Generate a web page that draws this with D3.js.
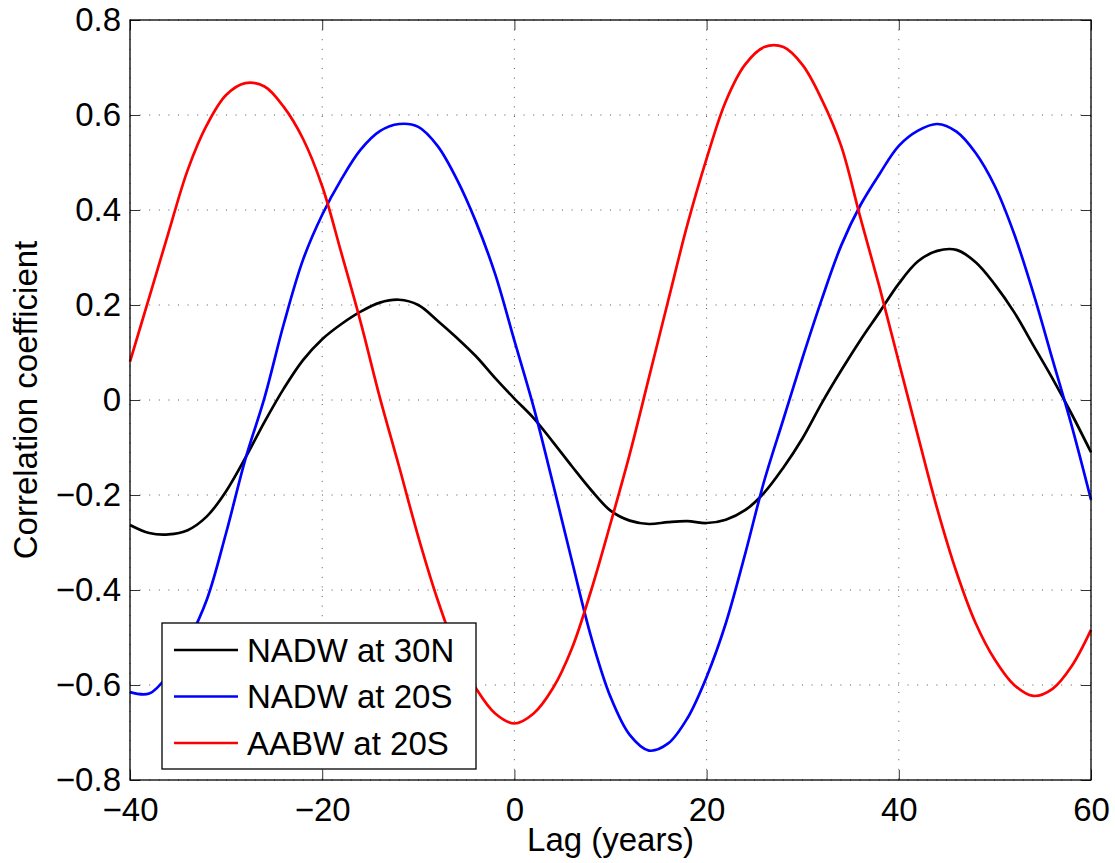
<!DOCTYPE html>
<html>
<head>
<meta charset="utf-8">
<script src="https://cdn.jsdelivr.net/npm/d3@7/dist/d3.min.js"></script>
<style>
  body { margin: 0; background: #fff; }
  svg text { font-family: "Liberation Sans", Arial, Helvetica, sans-serif; fill: #000; }
</style>
</head>
<body>
<svg id="chart"></svg>
<script>
// Chart size and plot box
const width = 1115;
const height = 863;
const margin = { top: 20, right: 24, bottom: 83, left: 130 };

// Data: lag in years, one value every 2 years
const lags = d3.range(-40, 61, 2);

const nadw30N = [
  -0.263, -0.280, -0.283, -0.274, -0.245, -0.192, -0.122, -0.046, 0.024, 0.084,
  0.128, 0.160, 0.186, 0.205, 0.211, 0.200, 0.167, 0.131, 0.092, 0.046,
  0.003, -0.038, -0.088, -0.140, -0.190, -0.233, -0.254, -0.261, -0.257, -0.255,
  -0.259, -0.252, -0.232, -0.195, -0.142, -0.080, -0.006, 0.062, 0.126, 0.185,
  0.245, 0.292, 0.314, 0.316, 0.290, 0.243, 0.185, 0.115, 0.045, -0.030,
  -0.110
];

const nadw20S = [
  -0.615, -0.618, -0.578, -0.510, -0.420, -0.280, -0.125, 0.005, 0.160, 0.295,
  0.390, 0.465, 0.527, 0.566, 0.581, 0.575, 0.535, 0.465, 0.375, 0.265,
  0.125, -0.015, -0.175, -0.340, -0.500, -0.625, -0.705, -0.738, -0.723, -0.670,
  -0.583, -0.470, -0.325, -0.170, -0.040, 0.090, 0.213, 0.325, 0.410, 0.476,
  0.535, 0.567, 0.581, 0.565, 0.520, 0.450, 0.350, 0.225, 0.085, -0.055,
  -0.210
];

const aabw20S = [
  0.081, 0.216, 0.352, 0.484, 0.579, 0.642, 0.667, 0.660, 0.617, 0.550,
  0.450, 0.309, 0.164, 0.005, -0.140, -0.288, -0.420, -0.530, -0.607, -0.660,
  -0.681, -0.660, -0.607, -0.522, -0.400, -0.260, -0.114, 0.047, 0.209, 0.369,
  0.508, 0.629, 0.706, 0.743, 0.743, 0.705, 0.632, 0.535, 0.384, 0.237,
  0.080, -0.076, -0.229, -0.362, -0.470, -0.547, -0.600, -0.623, -0.608, -0.560,
  -0.484
];

const seriesNames = ["NADW at 30N", "NADW at 20S", "AABW at 20S"];
const seriesColors = ["#000000", "#0000ff", "#ff0000"];
const seriesValues = [nadw30N, nadw20S, aabw20S];

const xTicks = [-40, -20, 0, 20, 40, 60];
const yTicks = [-0.8, -0.6, -0.4, -0.2, 0, 0.2, 0.4, 0.6, 0.8];

const innerW = width - margin.left - margin.right;
const innerH = height - margin.top - margin.bottom;

const svg = d3.select("#chart")
    .attr("width", width)
    .attr("height", height);

const g = svg.append("g")
    .attr("transform", `translate(${margin.left},${margin.top})`);

const x = d3.scaleLinear().domain([-40, 60]).range([0, innerW]);
const y = d3.scaleLinear().domain([-0.8, 0.8]).range([innerH, 0]);

// dotted grid
g.append("g").selectAll("line")
    .data(xTicks)
    .enter().append("line")
    .attr("x1", d => x(d)).attr("x2", d => x(d))
    .attr("y1", 0).attr("y2", innerH)
    .attr("stroke", "#555")
    .attr("stroke-width", 1)
    .attr("stroke-dasharray", "1,8.6");

g.append("g").selectAll("line")
    .data(yTicks)
    .enter().append("line")
    .attr("x1", 0).attr("x2", innerW)
    .attr("y1", d => y(d)).attr("y2", d => y(d))
    .attr("stroke", "#555")
    .attr("stroke-width", 1)
    .attr("stroke-dasharray", "1,8.6");

// curves
const line = d3.line()
    .x((d, i) => x(lags[i]))
    .y(d => y(d))
    .curve(d3.curveCatmullRom.alpha(0.5));

seriesValues.forEach((vals, k) => {
    g.append("path")
        .datum(vals)
        .attr("fill", "none")
        .attr("stroke", seriesColors[k])
        .attr("stroke-width", 2.7)
        .attr("stroke-linejoin", "round")
        .attr("d", line);
});

// axes with inward ticks on all four sides
const tickLen = 10;
const fmtY = d => d === 0 ? "0" : d3.format(".1f")(d);

const xAxis = g.append("g")
    .attr("transform", `translate(0,${innerH})`)
    .call(d3.axisBottom(x).tickValues(xTicks).tickSizeInner(-tickLen).tickSizeOuter(0).tickPadding(18));
const xTop = g.append("g")
    .call(d3.axisTop(x).tickValues(xTicks).tickSizeInner(-tickLen).tickSizeOuter(0).tickFormat(""));
const yAxis = g.append("g")
    .call(d3.axisLeft(y).tickValues(yTicks).tickSizeInner(-tickLen).tickSizeOuter(0).tickPadding(9).tickFormat(fmtY));
const yRight = g.append("g")
    .attr("transform", `translate(${innerW},0)`)
    .call(d3.axisRight(y).tickValues(yTicks).tickSizeInner(-tickLen).tickSizeOuter(0).tickFormat(""));

[xAxis, xTop, yAxis, yRight].forEach(a => {
    a.select(".domain").remove();
    a.selectAll(".tick line").attr("stroke", "#333").attr("stroke-width", 1);
    a.selectAll("text").attr("font-size", 33).style("font-family", null);
});
xAxis.selectAll("text").attr("dy", "0.71em");

// box
g.append("rect")
    .attr("x", 0).attr("y", 0)
    .attr("width", innerW).attr("height", innerH)
    .attr("fill", "none")
    .attr("stroke", "#000")
    .attr("stroke-width", 1.3);

// axis labels
svg.append("text")
    .attr("x", margin.left + innerW / 2)
    .attr("y", 851)
    .attr("text-anchor", "middle")
    .attr("font-size", 33)
    .text("Lag (years)");

svg.append("text")
    .attr("transform", `translate(37,${margin.top + innerH / 2}) rotate(-90)`)
    .attr("text-anchor", "middle")
    .attr("font-size", 33)
    .text("Correlation coefficient");

// legend
const legend = svg.append("g").attr("transform", "translate(162,623)");
legend.append("rect")
    .attr("width", 314).attr("height", 146)
    .attr("fill", "#fff")
    .attr("stroke", "#000")
    .attr("stroke-width", 1.3);

seriesNames.forEach((name, k) => {
    const cy = 27 + k * 46.5;
    legend.append("line")
        .attr("x1", 12).attr("x2", 76)
        .attr("y1", cy).attr("y2", cy)
        .attr("stroke", seriesColors[k])
        .attr("stroke-width", 2.7);
    legend.append("text")
        .attr("x", 85).attr("y", cy)
        .attr("dy", "0.35em")
        .attr("font-size", 33)
        .text(name);
});
</script>
</body>
</html>
